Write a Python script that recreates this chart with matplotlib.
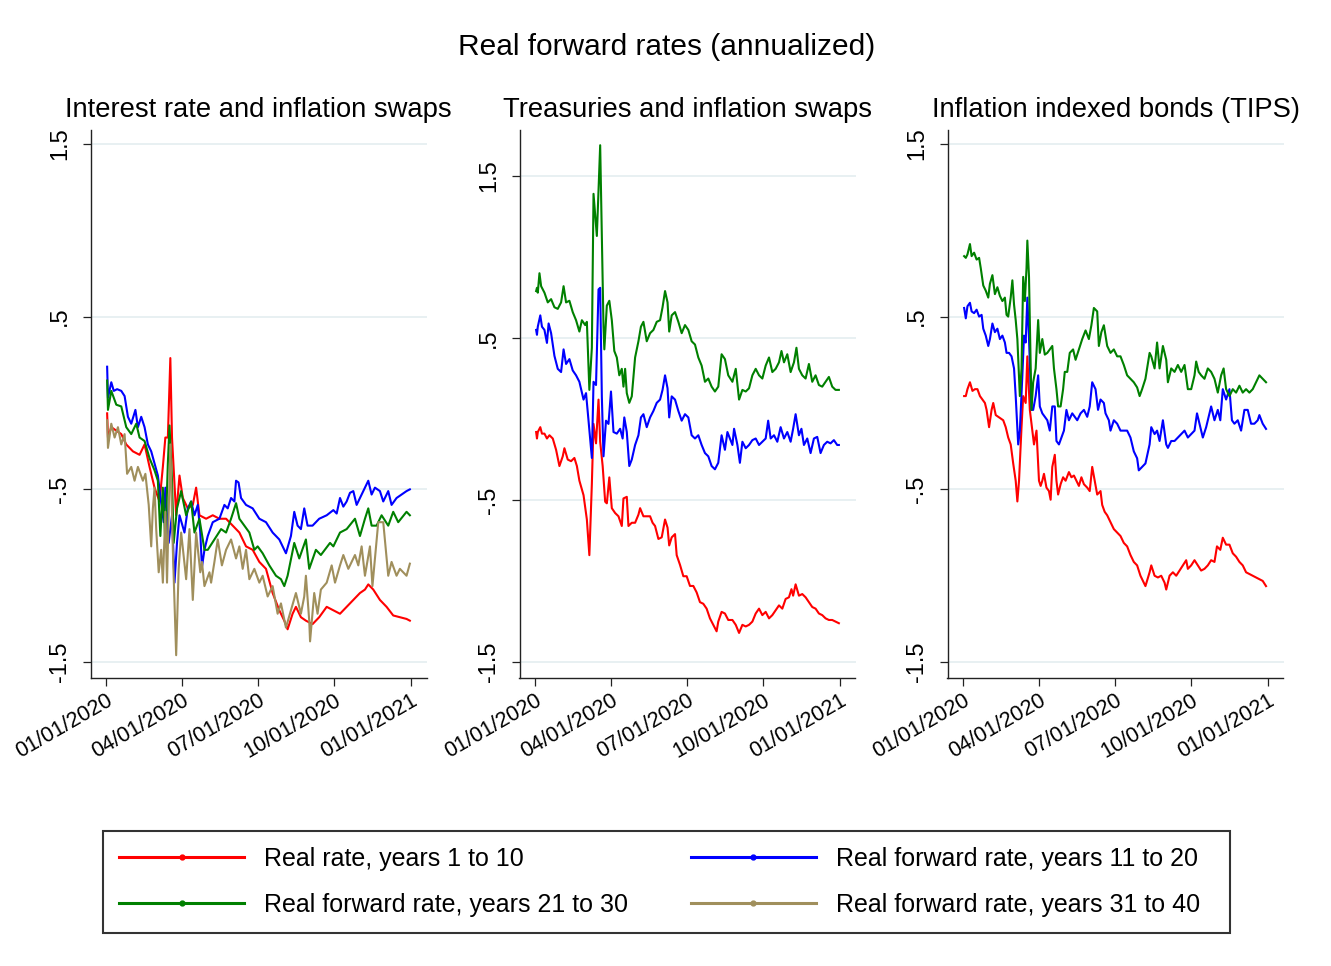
import numpy as np
import pandas as pd
import matplotlib
matplotlib.use("Agg")
import matplotlib.pyplot as plt
import matplotlib.dates as mdates
from matplotlib.lines import Line2D

plt.rcParams['font.family'] = ['Liberation Sans', 'DejaVu Sans']

# ---- data (day offset from 01/01/2020, value in %) ----
# Panel 1: interest rate and inflation swaps
p1_red_day = [1, 2, 6, 12, 18, 24, 32, 40, 46, 52, 58, 64, 68, 71, 74, 77, 79, 84, 88, 92,
              98, 104, 108, 112, 120, 128, 136, 144, 152, 160, 168, 176, 184, 192, 200, 208,
              214, 218, 224, 228, 234, 240, 248, 256, 265, 273, 281, 289, 297, 305, 311, 315,
              321, 329, 337, 345, 353, 361, 365]
p1_red = [-0.06, -0.20, -0.14, -0.16, -0.18, -0.24, -0.28, -0.30, -0.24, -0.37, -0.49, -0.57,
          -0.37, -0.20, -0.20, 0.26, -0.20, -0.65, -0.42, -0.55, -0.61, -0.59, -0.49, -0.65,
          -0.67, -0.65, -0.67, -0.67, -0.71, -0.75, -0.83, -0.85, -0.92, -0.96, -1.10, -1.20,
          -1.26, -1.31, -1.22, -1.18, -1.24, -1.26, -1.28, -1.24, -1.18, -1.20, -1.22, -1.18,
          -1.14, -1.10, -1.08, -1.05, -1.08, -1.14, -1.18, -1.23, -1.24, -1.25, -1.26]

p1_blue_day = [1, 2, 6, 9, 13, 18, 22, 26, 30, 35, 38, 42, 46, 50, 54, 58, 62, 66, 69, 71,
               75, 79, 82, 85, 88, 94, 98, 102, 106, 110, 113, 115, 118, 122, 128, 136, 142,
               146, 150, 154, 156, 159, 162, 168, 176, 184, 192, 200, 208, 216, 222, 226, 230,
               234, 238, 242, 248, 256, 265, 273, 277, 281, 285, 289, 293, 297, 301, 305, 309,
               315, 319, 323, 329, 333, 339, 343, 349, 355, 361, 365]
p1_blue = [0.21, 0.03, 0.12, 0.07, 0.08, 0.07, 0.04, -0.08, -0.12, -0.04, -0.14, -0.08, -0.14,
           -0.24, -0.28, -0.35, -0.42, -0.58, -0.69, -0.49, -0.81, -0.65, -1.04, -0.81, -0.65,
           -0.75, -0.61, -0.57, -0.65, -0.59, -0.75, -0.95, -0.85, -0.77, -0.69, -0.67, -0.59,
           -0.61, -0.55, -0.57, -0.45, -0.46, -0.55, -0.59, -0.61, -0.67, -0.69, -0.75, -0.79,
           -0.87, -0.77, -0.63, -0.71, -0.73, -0.61, -0.71, -0.71, -0.67, -0.65, -0.62, -0.64,
           -0.55, -0.60, -0.57, -0.52, -0.51, -0.59, -0.55, -0.51, -0.45, -0.53, -0.49, -0.51,
           -0.57, -0.51, -0.59, -0.55, -0.53, -0.51, -0.50]

p1_green_day = [1, 2, 6, 12, 18, 24, 30, 36, 40, 46, 52, 58, 62, 65, 68, 71, 74, 76, 79, 81,
                85, 90, 96, 102, 106, 112, 118, 122, 130, 138, 144, 150, 156, 160, 166, 172,
                178, 182, 188, 196, 204, 210, 214, 218, 226, 232, 240, 244, 252, 258, 269, 273,
                281, 289, 299, 305, 311, 315, 319, 325, 331, 339, 345, 351, 361, 365]
p1_green = [0.13, -0.04, 0.07, -0.01, -0.02, -0.14, -0.18, -0.12, -0.20, -0.22, -0.32, -0.39,
            -0.45, -0.77, -0.49, -0.81, -0.35, -0.13, -0.45, -0.81, -0.61, -0.51, -0.65, -0.57,
            -0.75, -0.67, -0.85, -0.85, -0.79, -0.73, -0.75, -0.67, -0.58, -0.67, -0.71, -0.75,
            -0.85, -0.83, -0.87, -0.94, -1.00, -1.02, -1.06, -1.00, -0.81, -0.90, -0.79, -0.96,
            -0.85, -0.88, -0.81, -0.83, -0.75, -0.73, -0.67, -0.77, -0.67, -0.61, -0.71, -0.71,
            -0.65, -0.71, -0.63, -0.69, -0.63, -0.65]

p1_tan_day = [1, 2, 6, 10, 14, 18, 22, 25, 30, 34, 38, 44, 47, 51, 54, 56, 58, 60, 63, 66,
              68, 71, 73, 77, 80, 84, 87, 90, 96, 100, 104, 108, 113, 115, 118, 124, 126, 130,
              134, 139, 144, 150, 156, 160, 164, 168, 172, 178, 184, 188, 194, 200, 206, 210,
              216, 222, 228, 234, 238, 240, 244, 245, 250, 254, 258, 265, 271, 275, 281, 285,
              291, 299, 303, 307, 311, 317, 320, 327, 333, 339, 343, 349, 353, 361, 365]
p1_tan = [-0.10, -0.26, -0.12, -0.20, -0.14, -0.24, -0.18, -0.41, -0.37, -0.45, -0.37, -0.45,
          -0.41, -0.59, -0.83, -0.61, -0.49, -0.73, -0.98, -0.85, -1.04, -0.63, -1.04, -0.24,
          -0.85, -1.46, -0.96, -0.75, -1.02, -0.73, -1.14, -0.75, -0.98, -0.92, -1.06, -0.98,
          -1.04, -0.92, -0.79, -0.94, -0.85, -0.79, -0.90, -0.83, -0.96, -0.85, -1.02, -0.96,
          -1.04, -1.00, -1.12, -1.06, -1.22, -1.16, -1.30, -1.20, -1.10, -1.22, -1.12, -1.00,
          -1.26, -1.38, -1.10, -1.22, -1.08, -1.04, -0.94, -1.04, -0.94, -0.88, -0.96, -0.88,
          -0.94, -0.83, -1.00, -0.83, -1.06, -0.69, -0.69, -1.00, -0.92, -1.00, -0.96, -1.00,
          -0.93]

# Panel 2: treasuries and inflation swaps
p2_green_day = [1, 2, 3, 5, 7, 11, 15, 19, 23, 27, 31, 34, 37, 41, 45, 49, 53, 56, 60, 62,
                65, 68, 70, 74, 78, 80, 82, 83, 86, 89, 92, 95, 98, 101, 104, 106, 108, 110,
                113, 116, 120, 124, 127, 130, 134, 138, 142, 146, 150, 153, 156, 159, 161, 164,
                168, 172, 176, 180, 184, 188, 192, 196, 200, 204, 208, 212, 216, 220, 224, 228,
                232, 237, 241, 245, 249, 253, 257, 261, 265, 269, 273, 277, 281, 285, 289, 293,
                296, 299, 303, 307, 311, 314, 317, 321, 325, 329, 333, 337, 341, 345, 349, 353,
                357, 361, 365]
p2_green = [0.79, 0.81, 0.78, 0.90, 0.82, 0.78, 0.72, 0.74, 0.69, 0.68, 0.72, 0.82, 0.72, 0.73,
            0.66, 0.61, 0.54, 0.61, 0.58, 0.60, 0.18, 0.44, 1.39, 1.13, 1.69, 1.13, 0.57, 0.43,
            0.70, 0.73, 0.61, 0.42, 0.38, 0.27, 0.31, 0.20, 0.31, 0.16, 0.10, 0.14, 0.38, 0.48,
            0.57, 0.60, 0.48, 0.53, 0.55, 0.60, 0.61, 0.69, 0.79, 0.72, 0.54, 0.64, 0.66, 0.60,
            0.53, 0.58, 0.55, 0.48, 0.46, 0.38, 0.33, 0.23, 0.25, 0.20, 0.17, 0.20, 0.40, 0.37,
            0.27, 0.23, 0.31, 0.12, 0.18, 0.17, 0.19, 0.27, 0.31, 0.27, 0.25, 0.33, 0.38, 0.29,
            0.31, 0.35, 0.42, 0.35, 0.40, 0.29, 0.35, 0.44, 0.31, 0.27, 0.25, 0.34, 0.23, 0.27,
            0.21, 0.20, 0.23, 0.26, 0.20, 0.18, 0.18]

p2_blue_day = [1, 2, 3, 6, 8, 11, 14, 16, 19, 23, 27, 31, 34, 37, 41, 45, 49, 53, 58, 61, 64,
               68, 70, 73, 76, 78, 80, 82, 85, 88, 91, 94, 98, 102, 105, 107, 110, 113, 116,
               120, 124, 127, 130, 134, 138, 142, 146, 150, 153, 156, 159, 161, 164, 168, 172,
               176, 180, 184, 188, 192, 196, 200, 204, 208, 212, 216, 220, 224, 228, 231, 237,
               239, 243, 246, 249, 253, 257, 261, 265, 269, 273, 277, 280, 283, 287, 291, 295,
               299, 303, 307, 310, 313, 317, 320, 323, 327, 331, 335, 339, 343, 347, 351, 355,
               359, 363, 365]
p2_blue = [0.55, 0.52, 0.57, 0.64, 0.57, 0.55, 0.47, 0.59, 0.53, 0.39, 0.31, 0.29, 0.43, 0.34,
           0.37, 0.30, 0.27, 0.23, 0.12, 0.16, -0.01, -0.24, 0.23, 0.21, 0.80, 0.81, 0.14,
           -0.23, -0.01, -0.03, 0.17, -0.08, -0.09, -0.06, -0.12, 0.01, -0.08, -0.29, -0.25,
           -0.16, -0.10, 0.01, 0.03, -0.05, 0.01, 0.05, 0.10, 0.12, 0.18, 0.27, 0.19, 0.01,
           0.14, 0.12, 0.05, -0.01, 0.03, 0.01, -0.10, -0.12, -0.10, -0.16, -0.21, -0.23, -0.29,
           -0.31, -0.27, -0.10, -0.19, -0.08, -0.16, -0.06, -0.16, -0.27, -0.14, -0.18, -0.16,
           -0.13, -0.12, -0.16, -0.14, -0.12, -0.01, -0.12, -0.10, -0.14, -0.05, -0.12, -0.08,
           -0.14, -0.06, 0.03, -0.10, -0.06, -0.16, -0.12, -0.21, -0.12, -0.11, -0.21, -0.16,
           -0.14, -0.15, -0.13, -0.16, -0.16]

p2_red_day = [1, 2, 3, 6, 8, 11, 14, 17, 21, 25, 29, 33, 35, 39, 43, 47, 50, 53, 58, 62, 65,
              68, 70, 73, 76, 78, 81, 84, 86, 89, 92, 96, 100, 104, 106, 110, 112, 116, 120,
              124, 126, 130, 134, 138, 141, 144, 148, 152, 156, 159, 161, 164, 168, 170, 174,
              178, 182, 186, 190, 194, 198, 202, 206, 210, 214, 218, 220, 224, 228, 232, 237,
              241, 245, 249, 253, 257, 261, 265, 269, 273, 277, 281, 285, 289, 293, 297, 301,
              305, 308, 310, 313, 317, 321, 325, 329, 333, 337, 341, 345, 349, 353, 357, 361,
              365]
p2_red = [-0.08, -0.12, -0.08, -0.05, -0.09, -0.09, -0.12, -0.10, -0.12, -0.19, -0.29, -0.23,
          -0.18, -0.25, -0.26, -0.24, -0.29, -0.38, -0.47, -0.62, -0.84, -0.40, -0.03, -0.15,
          0.12, -0.14, -0.29, -0.51, -0.52, -0.36, -0.55, -0.58, -0.60, -0.66, -0.49, -0.48,
          -0.66, -0.64, -0.64, -0.59, -0.55, -0.60, -0.60, -0.60, -0.64, -0.66, -0.74, -0.73,
          -0.62, -0.67, -0.78, -0.73, -0.71, -0.84, -0.90, -0.97, -0.97, -1.03, -1.03, -1.07,
          -1.13, -1.14, -1.17, -1.23, -1.27, -1.31, -1.25, -1.19, -1.20, -1.24, -1.24, -1.27,
          -1.32, -1.27, -1.28, -1.27, -1.25, -1.20, -1.17, -1.21, -1.19, -1.23, -1.21, -1.18,
          -1.15, -1.17, -1.11, -1.10, -1.05, -1.09, -1.02, -1.09, -1.08, -1.10, -1.13, -1.16,
          -1.17, -1.20, -1.21, -1.23, -1.24, -1.24, -1.25, -1.26]

# Panel 3: inflation indexed bonds (TIPS)
p3_green_day = [1, 3, 5, 8, 10, 13, 16, 19, 21, 24, 27, 30, 32, 35, 38, 41, 44, 47, 50, 52, 54,
                57, 59, 61, 63, 65, 68, 70, 72, 74, 76, 77, 79, 82, 84, 87, 90, 92, 95, 98, 101,
                104, 107, 109, 112, 114, 117, 120, 122, 125, 128, 132, 135, 139, 143, 147, 151,
                154, 157, 161, 163, 166, 169, 173, 177, 181, 185, 189, 193, 197, 201, 205, 209,
                212, 215, 219, 224, 226, 230, 233, 236, 240, 244, 246, 250, 254, 258, 262, 266,
                270, 274, 278, 280, 283, 286, 290, 294, 298, 302, 306, 310, 313, 316, 320, 324,
                328, 332, 336, 340, 344, 348, 352, 356, 360, 364]
p3_green = [0.85, 0.84, 0.86, 0.92, 0.85, 0.87, 0.83, 0.84, 0.78, 0.68, 0.65, 0.61, 0.69, 0.74,
            0.63, 0.67, 0.62, 0.59, 0.61, 0.51, 0.50, 0.61, 0.71, 0.57, 0.48, 0.37, 0.04, 0.20,
            0.73, 0.59, 0.78, 0.94, 0.73, -0.04, 0.12, 0.20, 0.48, 0.29, 0.37, 0.28, 0.29, 0.31,
            0.33, 0.20, 0.08, -0.02, -0.02, 0.08, 0.18, 0.18, 0.29, 0.31, 0.25, 0.31, 0.37, 0.42,
            0.37, 0.45, 0.55, 0.53, 0.33, 0.41, 0.45, 0.33, 0.29, 0.31, 0.27, 0.27, 0.22, 0.16,
            0.14, 0.12, 0.09, 0.04, 0.08, 0.14, 0.29, 0.27, 0.20, 0.35, 0.20, 0.33, 0.25, 0.12,
            0.20, 0.18, 0.22, 0.18, 0.22, 0.08, 0.08, 0.16, 0.24, 0.18, 0.16, 0.14, 0.20, 0.18,
            0.14, 0.06, 0.16, 0.20, 0.08, 0.04, 0.08, 0.06, 0.10, 0.06, 0.08, 0.06, 0.08, 0.12,
            0.16, 0.14, 0.12]

p3_blue_day = [1, 3, 5, 8, 10, 13, 16, 19, 22, 24, 27, 30, 32, 35, 38, 41, 44, 47, 50, 52, 55,
               58, 61, 63, 66, 68, 71, 73, 75, 77, 79, 82, 84, 87, 90, 92, 95, 98, 101, 104,
               107, 110, 112, 115, 118, 121, 124, 127, 131, 134, 137, 141, 145, 149, 152, 155,
               159, 162, 165, 169, 171, 175, 177, 181, 185, 189, 193, 197, 201, 205, 209, 211,
               215, 219, 224, 226, 230, 233, 236, 240, 244, 246, 250, 254, 258, 262, 266, 270,
               274, 278, 281, 284, 288, 292, 295, 298, 302, 306, 309, 312, 316, 320, 323, 326,
               330, 334, 338, 342, 346, 350, 354, 356, 360, 364]
p3_blue = [0.55, 0.49, 0.56, 0.58, 0.53, 0.52, 0.54, 0.50, 0.51, 0.43, 0.39, 0.33, 0.37, 0.46,
           0.41, 0.43, 0.37, 0.39, 0.35, 0.29, 0.29, 0.27, 0.20, 0.04, -0.24, -0.16, 0.16, 0.39,
           0.35, 0.61, 0.37, -0.04, -0.04, 0.04, 0.16, -0.02, -0.06, -0.08, -0.10, -0.16, -0.02,
           -0.02, -0.22, -0.24, -0.20, -0.16, -0.04, -0.10, -0.06, -0.08, -0.10, -0.06, -0.04,
           -0.08, -0.02, 0.12, 0.08, -0.04, 0.02, 0.00, -0.06, -0.10, -0.16, -0.10, -0.12, -0.16,
           -0.16, -0.16, -0.20, -0.28, -0.32, -0.39, -0.37, -0.35, -0.24, -0.14, -0.18, -0.16,
           -0.22, -0.10, -0.24, -0.26, -0.22, -0.22, -0.20, -0.18, -0.16, -0.20, -0.18, -0.16,
           -0.06, -0.12, -0.20, -0.14, -0.08, -0.02, -0.10, -0.04, -0.10, 0.08, 0.02, 0.08,
           -0.10, -0.12, -0.10, -0.16, -0.04, -0.04, -0.12, -0.12, -0.10, -0.07, -0.12, -0.15]

p3_red_day = [1, 3, 5, 8, 11, 14, 17, 20, 23, 26, 28, 31, 34, 36, 39, 42, 45, 48, 51, 54, 57,
              60, 63, 65, 67, 70, 72, 75, 77, 80, 83, 85, 88, 91, 93, 95, 97, 100, 103, 105,
              107, 110, 112, 114, 117, 120, 123, 127, 130, 133, 136, 139, 142, 145, 149, 152,
              155, 158, 161, 165, 167, 170, 173, 177, 181, 185, 189, 193, 197, 201, 205, 209,
              213, 217, 219, 224, 226, 230, 234, 238, 242, 244, 248, 252, 256, 260, 264, 268,
              270, 274, 278, 282, 286, 290, 294, 298, 302, 305, 309, 312, 316, 320, 324, 328,
              332, 336, 340, 344, 348, 352, 356, 360, 364]
p3_red = [0.04, 0.04, 0.08, 0.12, 0.07, 0.08, 0.08, 0.04, 0.02, 0.00, -0.04, -0.14, -0.04, 0.00,
          -0.07, -0.08, -0.09, -0.10, -0.14, -0.20, -0.24, -0.35, -0.45, -0.57, -0.45, -0.14,
          0.04, 0.00, 0.27, -0.04, -0.16, -0.24, -0.16, -0.45, -0.48, -0.45, -0.41, -0.49, -0.51,
          -0.56, -0.37, -0.30, -0.45, -0.53, -0.47, -0.43, -0.45, -0.40, -0.43, -0.42, -0.45,
          -0.48, -0.43, -0.47, -0.49, -0.51, -0.37, -0.45, -0.53, -0.51, -0.59, -0.63, -0.65,
          -0.69, -0.73, -0.75, -0.77, -0.81, -0.83, -0.88, -0.92, -0.94, -1.00, -1.04, -1.06,
          -0.98, -0.94, -1.00, -1.01, -1.00, -1.04, -1.08, -1.00, -0.98, -1.00, -0.97, -0.94,
          -0.91, -0.96, -0.94, -0.91, -0.94, -0.97, -0.96, -0.94, -0.91, -0.92, -0.83, -0.85,
          -0.78, -0.82, -0.82, -0.87, -0.89, -0.92, -0.94, -0.98, -0.99, -1.00, -1.01, -1.02,
          -1.03, -1.06]

panel_titles = ["Interest rate and inflation swaps", "Treasuries and inflation swaps",
                "Inflation indexed bonds (TIPS)"]
series_labels = ["Real rate, years 1 to 10", "Real forward rate, years 11 to 20",
                 "Real forward rate, years 21 to 30", "Real forward rate, years 31 to 40"]
ytick_vals = [-1.5, -0.5, 0.5, 1.5]
ytick_text = ["-1.5", "-.5", ".5", "1.5"]
xtick_dates = ["2020-01-01", "2020-04-01", "2020-07-01", "2020-10-01", "2021-01-01"]

colors = {"red": "#ff0000", "blue": "#0000ff", "green": "#008000", "tan": "#a08f5c"}

start = pd.Timestamp("2020-01-01")


def to_dates(days):
    return start + pd.to_timedelta(np.array(days), unit="D")


panels = [
    [("red", p1_red_day, p1_red), ("blue", p1_blue_day, p1_blue),
     ("green", p1_green_day, p1_green), ("tan", p1_tan_day, p1_tan)],
    [("red", p2_red_day, p2_red), ("blue", p2_blue_day, p2_blue),
     ("green", p2_green_day, p2_green)],
    [("red", p3_red_day, p3_red), ("blue", p3_blue_day, p3_blue),
     ("green", p3_green_day, p3_green)],
]
ylims = [(-1.589, 1.583), (-1.595, 1.787), (-1.589, 1.583)]

W, H = 1331, 966
fig = plt.figure(figsize=(W / 100, H / 100), dpi=100)

lefts = [90.5, 519.5, 947.5]
pw, top, bot = 336, 129.5, 677.5

for i, series in enumerate(panels):
    ax = fig.add_axes([lefts[i] / W, 1 - bot / H, pw / W, (bot - top) / H])
    for name, d, v in series:
        ax.plot(to_dates(d), v, color=colors[name], lw=1.5, zorder=3)
    ax.set_ylim(*ylims[i])
    ax.set_xlim(pd.Timestamp("2019-12-13"), pd.Timestamp("2021-01-20"))
    ax.set_yticks(ytick_vals)
    ax.set_yticklabels(ytick_text, rotation=90, va="center", fontsize=17)
    ax.set_xticks(pd.to_datetime(xtick_dates))
    ax.xaxis.set_major_formatter(mdates.DateFormatter("%m/%d/%Y"))
    for lab in ax.get_xticklabels():
        lab.set_rotation(30)
        lab.set_ha("right")
        lab.set_va("top")
        lab.set_rotation_mode("anchor")
        lab.set_fontsize(15.5)
    ax.grid(axis="y", color="#e4eef0", lw=1.2, zorder=0)
    ax.tick_params(axis="both", length=6, width=0.9, color="#222222")
    ax.tick_params(axis="y", pad=8)
    ax.tick_params(axis="x", pad=3)
    for s in ["top", "right"]:
        ax.spines[s].set_visible(False)
    for s in ["left", "bottom"]:
        ax.spines[s].set_color("#222222")
        ax.spines[s].set_linewidth(1.0)
    fig.text((lefts[i] + pw / 2) / W, 1 - 110 / H, panel_titles[i],
             ha="center", va="center", fontsize=19.7)

fig.text(667 / W, 1 - 47 / H, "Real forward rates (annualized)",
         ha="center", va="center", fontsize=21.5)

handles = [Line2D([], [], color=colors[c], lw=2.2, marker="o", markersize=3.5)
           for c in ["red", "green", "blue", "tan"]]
# second column gets a little trailing room, as in the original box
labels = [series_labels[0], series_labels[2], series_labels[1] + "  ", series_labels[3] + "  "]
leg = fig.legend(handles, labels, loc="center", ncol=2, mode="expand",
                 bbox_to_anchor=(103 / W, 1 - 936 / H, (1230 - 103) / W, (936 - 828) / H),
                 borderaxespad=0, fontsize=18, frameon=True, fancybox=False,
                 edgecolor="black", handlelength=5, handletextpad=0.8, borderpad=0.65,
                 labelspacing=0.88, columnspacing=2.4, numpoints=1)
leg.get_frame().set_linewidth(1.5)

fig.savefig("out.png", dpi=100, facecolor="white")
